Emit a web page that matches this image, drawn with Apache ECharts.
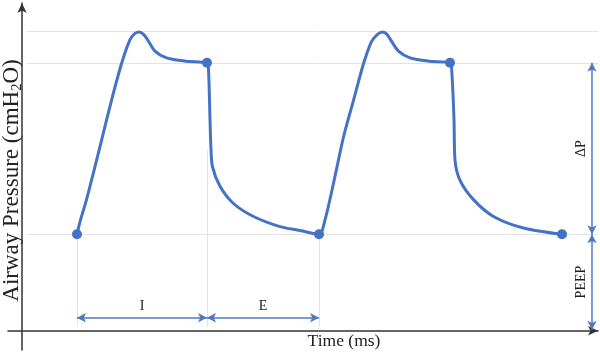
<!DOCTYPE html>
<html>
<head>
<meta charset="utf-8">
<script src="https://cdn.jsdelivr.net/npm/echarts@6/dist/echarts.min.js"></script>
<style>html,body{margin:0;padding:0;background:#fff}#c{width:600px;height:356px}</style>
</head>
<body>
<div id="c"></div>
<script>
// Waveform samples (time in ms, pressure in cmH2O)
const timeMs = [110,116,129,156,179,199,216,226,235,243,251,266,289,329,370,373,376,378,381,396,423,463,516,556,594,
                606,623,643,663,683,699,711,721,729,737,753,776,816,856,860,864,866,876,903,943,1003,1080];
const pressure = [10,11.3,13.6,19.1,23.9,27.7,30.2,30.85,31,30.75,30.2,29.0,28.3,27.95,27.8,27.1,21.9,18.8,17.0,15.0,13.2,11.85,10.8,10.4,10,
                  11.5,15.3,20.1,23.9,27.7,30.0,30.75,31,30.8,30.2,29.0,28.3,27.95,27.8,26.5,21.9,17.7,15.6,13.6,11.85,10.65,10];
// Marked points
const dotTime = [110,370,594,856,1080];
const dotPressure = [10,27.8,10,27.8,10];
// Reference levels
const peakLevel = 31.1, plateauLevel = 27.8, peepLevel = 10;
// Phase intervals
const phaseLabels = ['I','E'];
const phaseBounds = [[110,370],[370,594]];
const phaseArrowY = 1.35;
// Guides
const guideTimes = [110,370,594];
const guideTops = [10,18.8,10];
const guideBottom = 0.4;
const sideArrowX = 1140;

const blue = '#4472C4';
const arrowBlue = '#4f78bd';
const serif = 'Liberation Serif';

const chart = echarts.init(document.getElementById('c'), null, {renderer:'canvas'});

const hLines = [peakLevel, plateauLevel, peepLevel].map(v => [{coord:[10,v]},{coord:[1152,v]}]);
const vGuides = guideTimes.map((t,i) => [{coord:[t,guideTops[i]]},{coord:[t,guideBottom]}]);
const phaseArrows = phaseBounds.map((b,i) => [
  {coord:[b[0],phaseArrowY], name:phaseLabels[i]},
  {coord:[b[1],phaseArrowY]}
]);
const sideArrows = [
  [{coord:[sideArrowX,peepLevel], name:'ΔP'},{coord:[sideArrowX,plateauLevel]}],
  [{coord:[sideArrowX,0.1], name:'PEEP'},{coord:[sideArrowX,peepLevel]}]
];

chart.setOption({
  animation:false,
  grid:{left:8,right:2,top:3,bottom:6,containLabel:false,outerBoundsMode:'none'},
  xAxis:{
    type:'value', min:-28, max:1152,
    axisLine:{onZero:true, lineStyle:{color:'#333',width:1.5}, symbol:['none','arrow'], symbolSize:[7,10]},
    axisTick:{show:false}, axisLabel:{show:false}, splitLine:{show:false},
    name:'Time (ms)', nameLocation:'middle', nameGap:-9,
    nameTextStyle:{fontFamily:serif, fontSize:17.5, color:'#222', padding:[0,0,0,82], verticalAlign:'middle'}
  },
  yAxis:{
    type:'value', min:-2, max:34,
    axisLine:{onZero:true, lineStyle:{color:'#333',width:1.5}, symbol:['none','arrow'], symbolSize:[7,10]},
    axisTick:{show:false}, axisLabel:{show:false}, splitLine:{show:false},
    name:'Airway Pressure (cmH{s|2}O)', nameLocation:'middle', nameGap:-4,
    nameTextStyle:{fontFamily:serif, fontSize:23, color:'#222', verticalAlign:'middle', padding:[0,8,0,0],
      rich:{s:{fontFamily:serif, fontSize:14.5, color:'#222', padding:[10,0,0,0]}}}
  },
  series:[
    {
      type:'line', data:[], silent:true, z:1,
      markLine:{silent:true, z:1, symbol:['none','none'], animation:false,
        lineStyle:{color:'#e3e3e3', width:1, type:'solid'}, label:{show:false},
        data: hLines.concat(vGuides)}
    },
    {
      type:'line', smooth:0.3, symbol:'none', showSymbol:false, z:3,
      lineStyle:{color:blue, width:3},
      data: timeMs.map((t,i)=>[t,pressure[i]])
    },
    {
      type:'scatter', symbol:'circle', symbolSize:10, z:4, itemStyle:{color:blue, opacity:1},
      data: dotTime.map((t,i)=>[t,dotPressure[i]])
    },
    {
      type:'line', data:[], silent:true, z:5,
      markLine:{silent:true, symbol:['arrow','arrow'], symbolSize:[7,9], animation:false,
        lineStyle:{color:arrowBlue, width:1.5, type:'solid'},
        label:{show:true, position:'middle', formatter:'{b}', fontFamily:serif, fontSize:14, color:'#222', distance:4},
        data: phaseArrows.concat(sideArrows)}
    }
  ]
});
</script>
</body>
</html>
